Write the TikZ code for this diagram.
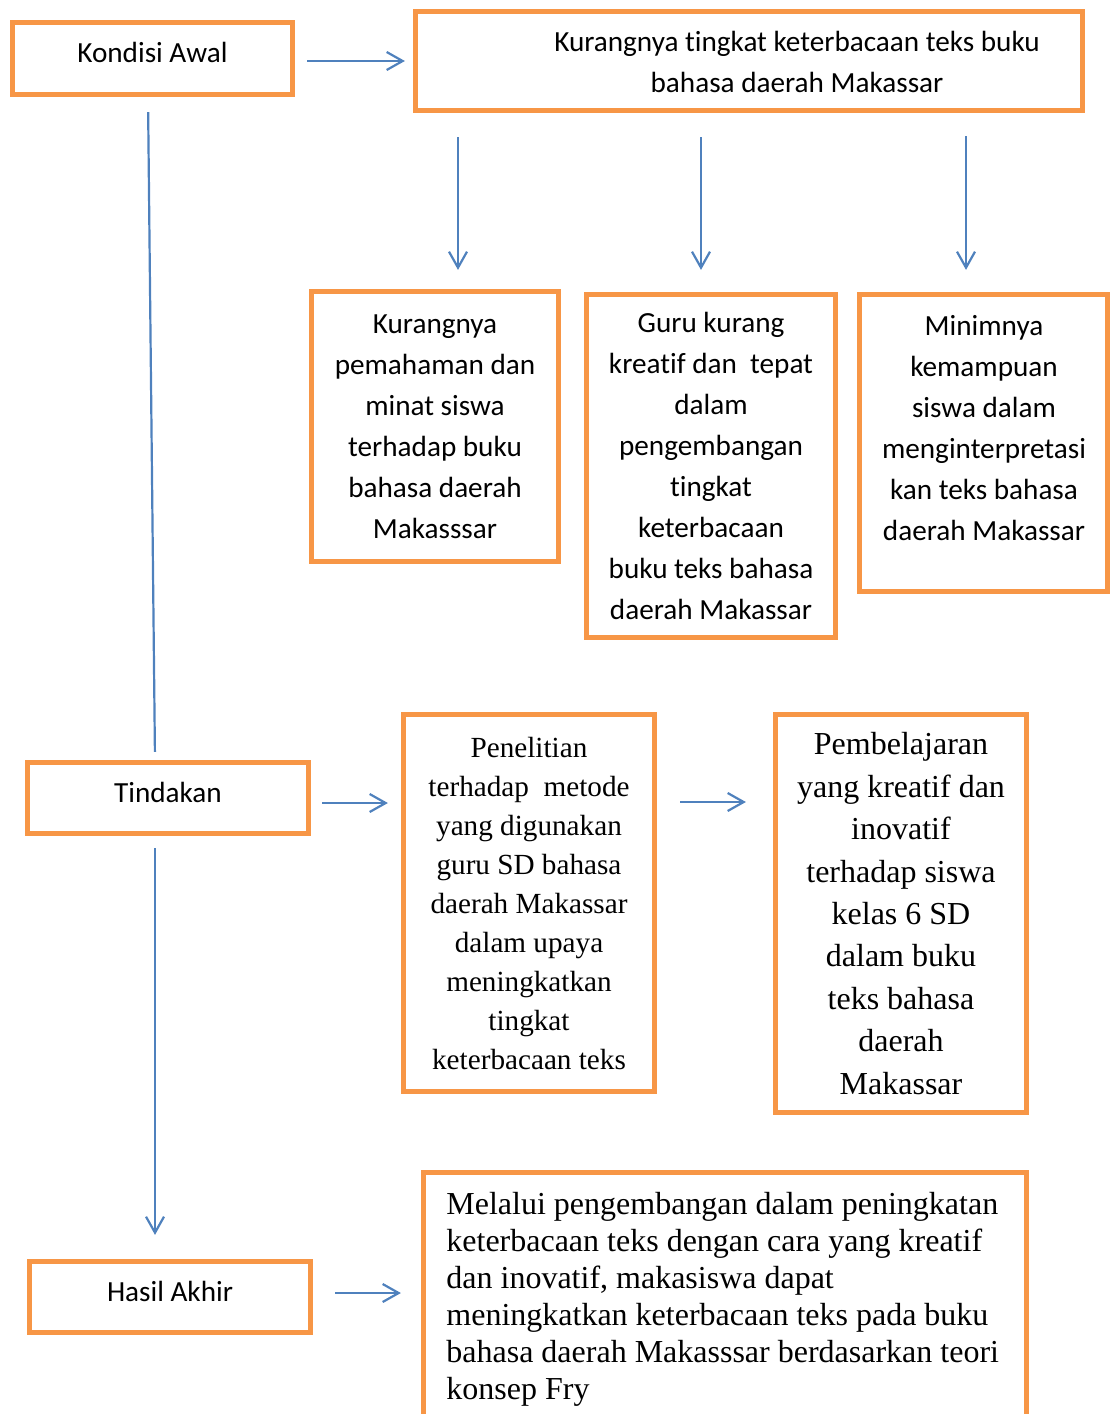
\documentclass[tikz,border=0pt]{standalone}
\usepackage{fontspec}
\setmainfont{Liberation Serif}
\newfontfamily\calibri[Ligatures=NoCommon]{Carlito}
\usetikzlibrary{arrows.meta}
\definecolor{kkOranye}{HTML}{F79646}
\definecolor{kkBiru}  {HTML}{4F81BD}

\begin{document}
\begin{tikzpicture}[x=0.5pt,y=-0.5pt,
      kotak/.style={draw=kkOranye,line width=2.6pt,align=center,inner sep=0pt},
      sans/.style={font=\calibri\fontsize{14.6}{20.5}\selectfont},
      serif/.style={font=\fontsize{14.6}{19.5}\selectfont},
      tahap/.style={kotak,sans,minimum width=140.5pt,minimum height=35.5pt,text depth=6pt},
      panah/.style={-{Straight Barb[length=8pt,width=9pt]},kkBiru,line width=1.1pt}]

    \useasboundingbox (0,0) rectangle (1110,1414);

    \node[tahap,minimum width=140pt,minimum height=36pt] (kondisi) at (152.5,58.5)
      {Kondisi Awal};
    \node[kotak,minimum width=333.5pt,minimum height=49.5pt] (masalah) at (749,61) {};
    \node[sans,align=center] (masalahteks) at (797,62)
      {Kurangnya tingkat keterbacaan teks buku\\bahasa daerah Makassar};

    \node[kotak,sans,minimum width=123.5pt,minimum height=135pt] (sebab1) at (435,426.5)
      {Kurangnya\\pemahaman dan\\minat siswa\\terhadap buku\\bahasa daerah\\Makasssar};
    \node[kotak,sans,minimum width=124.5pt,minimum height=171.5pt] (sebab2) at (711,466)
      {Guru kurang\\kreatif dan~ tepat\\dalam\\pengembangan\\tingkat\\keterbacaan\\buku teks bahasa\\daerah Makassar};
    \node[kotak,minimum width=124pt,minimum height=148.5pt] (sebab3) at (983.5,443) {};
    \node[sans,align=center] (sebab3teks) at (984,428)
      {Minimnya\\kemampuan\\siswa dalam\\menginterpretasi\\kan teks bahasa\\daerah Makassar};

    \node[tahap] (tindakan) at (168,798) {Tindakan};
    \node[kotak,serif,minimum width=125.5pt,minimum height=188.5pt] (penelitian) at (529,903)
      {Penelitian\\terhadap~ metode\\yang digunakan\\guru SD bahasa\\daerah Makassar\\dalam upaya\\meningkatkan\\tingkat\\keterbacaan teks};
    \node[kotak,font=\fontsize{16}{21.2}\selectfont,minimum width=125.5pt,minimum height=199pt]
      (pembelajaran) at (901,913.5)
      {Pembelajaran\\yang kreatif dan\\inovatif\\terhadap siswa\\kelas 6 SD\\dalam buku\\teks bahasa\\daerah\\Makassar};

    \node[tahap] (hasil) at (170,1297) {Hasil Akhir};
    \node[kotak,minimum width=301.5pt,minimum height=143.75pt] (melalui) at (725,1316.25) {};
    \node[font=\fontsize{16}{18.5}\selectfont,align=left,inner sep=0pt,anchor=north west]
      (melaluiteks) at (446,1192)
      {Melalui pengembangan dalam peningkatan\\keterbacaan teks dengan cara yang kreatif\\dan inovatif, makasiswa dapat\\meningkatkan keterbacaan teks pada buku\\bahasa daerah Makasssar berdasarkan teori\\konsep Fry};

    \draw[panah,shorten <=6pt,shorten >=4pt] (kondisi.east |- 0,61) -- (masalah.west |- 0,61);
    \draw[panah,shorten <=12pt,shorten >=9.5pt] (masalah.south -| 458,0) -- (sebab1.north -| 458,0);
    \draw[panah,shorten <=12pt,shorten >=11pt] (masalah.south -| 701,0) -- (sebab2.north -| 701,0);
    \draw[panah,shorten <=11.5pt,shorten >=11pt] (masalah.south -| 966,0) -- (sebab3.north -| 966,0);

    \draw[kkBiru,line width=1.1pt,shorten <=7.5pt,shorten >=4pt]
      (kondisi.south -| 148,0) -- (tindakan.north -| 155,0);
    \draw[panah,shorten <=6pt,shorten >=12pt] (tindakan.south -| 155,0) -- (hasil.north -| 155,0);

    \draw[panah,shorten <=5.5pt,shorten >=6.5pt] (tindakan.east |- 0,803) -- (penelitian.west |- 0,803);
    \draw[panah,shorten <=11.5pt,shorten >=13.5pt] (penelitian.east |- 0,802) -- (pembelajaran.west |- 0,802);
    \draw[panah,shorten <=11pt,shorten >=10pt] (hasil.east |- 0,1293) -- (melalui.west |- 0,1293);
  \end{tikzpicture}
\end{document}
